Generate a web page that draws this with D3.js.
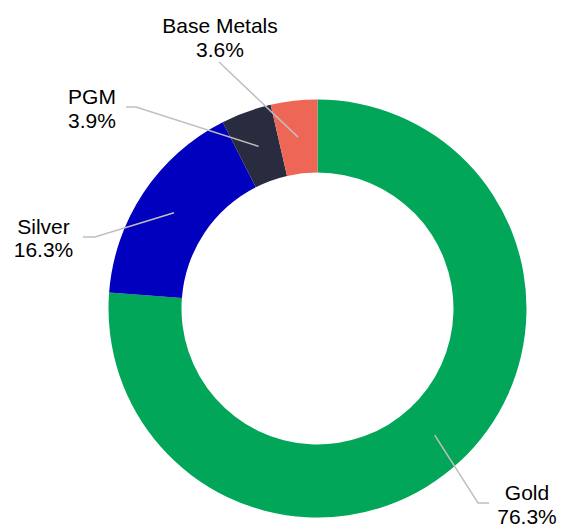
<!DOCTYPE html>
<html>
<head>
<meta charset="utf-8">
<script src="https://cdn.jsdelivr.net/npm/d3@7"></script>
<style>
  body { margin: 0; background: #fff; }
  svg { display: block; }
</style>
</head>
<body>
<div id="chart"></div>
<script>
// data
var categories = ["Gold", "Silver", "PGM", "Base Metals"];
var shares = [76.3, 16.3, 3.9, 3.6];
var colors = ["#02a659", "#0000be", "#282c3e", "#ed6656"];

// label layout: elbow point, end of short horizontal, text centre / first baseline
var labelLayout = [
  { elbow: [478, 503], end: [489, 503], text: [527, 500] },
  { elbow: [95, 237], end: [83, 237], text: [43.5, 233.5] },
  { elbow: [136, 107], end: [126, 107], text: [92, 104] },
  { elbow: [219, 62], end: [219, 62], text: [220, 33] }
];

var width = 573, height = 527;
var cx = 317.5, cy = 308.5;
var outerR = 209, innerR = 136;

var svg = d3.select("#chart").append("svg")
  .attr("width", width)
  .attr("height", height);

var dataset = categories.map(function (c, i) {
  return { name: c, value: shares[i], color: colors[i], layout: labelLayout[i] };
});

var pie = d3.pie()
  .value(function (d) { return d.value; })
  .sort(null);

var arc = d3.arc().innerRadius(innerR).outerRadius(outerR);
var midArc = d3.arc().innerRadius((innerR + outerR) / 2).outerRadius((innerR + outerR) / 2);

var g = svg.append("g").attr("transform", "translate(" + cx + "," + cy + ")");

var arcs = pie(dataset);

g.selectAll("path.slice")
  .data(arcs)
  .enter()
  .append("path")
  .attr("class", "slice")
  .attr("d", arc)
  .style("fill", function (d) { return d.data.color; });

// leader lines
svg.selectAll("polyline.leader")
  .data(arcs)
  .enter()
  .append("polyline")
  .attr("class", "leader")
  .attr("points", function (d) {
    var c = midArc.centroid(d);
    var l = d.data.layout;
    return [[c[0] + cx, c[1] + cy], l.elbow, l.end].map(function (p) { return p.join(","); }).join(" ");
  })
  .style("fill", "none")
  .style("stroke", "#bfbfbf")
  .style("stroke-width", 1.5);

// labels
var labels = svg.selectAll("text.label")
  .data(arcs)
  .enter()
  .append("text")
  .attr("class", "label")
  .attr("x", function (d) { return d.data.layout.text[0]; })
  .attr("y", function (d) { return d.data.layout.text[1]; })
  .style("text-anchor", "middle")
  .style("font-family", "'Liberation Sans', Arial, sans-serif")
  .style("font-size", "21px")
  .style("fill", "#000");

labels.append("tspan")
  .attr("x", function (d) { return d.data.layout.text[0]; })
  .text(function (d) { return d.data.name; });

labels.append("tspan")
  .attr("x", function (d) { return d.data.layout.text[0]; })
  .attr("dy", 23.5)
  .text(function (d) { return d.data.value.toFixed(1) + "%"; });
</script>
</body>
</html>
